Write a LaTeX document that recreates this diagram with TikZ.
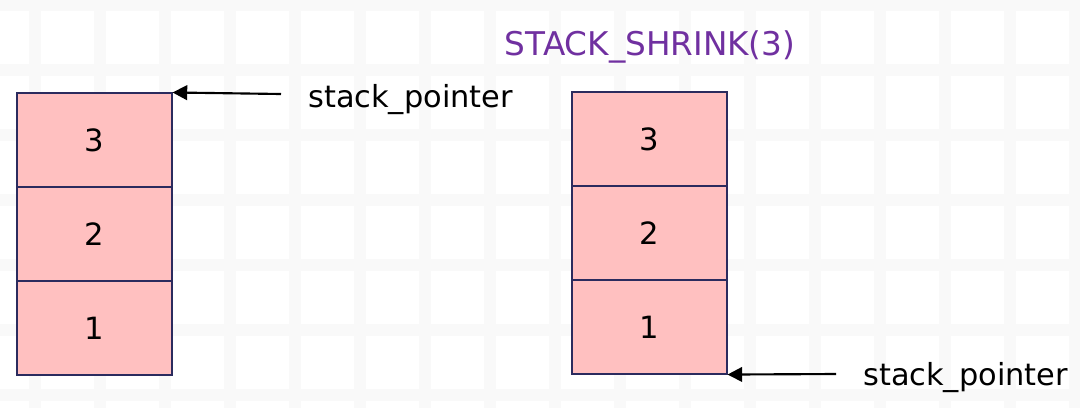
\documentclass[tikz,border=0pt]{standalone}
\usepackage{fontspec}
\setmainfont{DejaVu Sans}
\usetikzlibrary{arrows.meta}
\definecolor{cellfill}{HTML}{FFC0C0}
\definecolor{celldraw}{HTML}{2B2B5E}
\definecolor{titlepurple}{HTML}{7030A0}
\definecolor{gridc}{HTML}{F9F9F9}
\tikzset{
  cell/.style={draw=celldraw, line width=0.8pt, fill=cellfill, minimum width=116.25pt, minimum height=70.5pt, inner sep=0pt, font=\fontsize{23}{27}\selectfont},
  ptr/.style={line width=1.6pt, -{Triangle[length=11pt,width=11pt]}},
  lbl/.style={anchor=base west, inner sep=0pt, font=\fontsize{22.8}{27}\selectfont},
  ttl/.style={anchor=base, inner sep=0pt, text=titlepurple, font=\fontsize{24.5}{29}\selectfont}
}
\begin{document}
\begin{tikzpicture}[x=0.75pt,y=-0.75pt]
\useasboundingbox (0,0) rectangle (1080,408);
\fill[white] (0,0) rectangle (1080,408);
% faint background grid
\foreach \gx in {35,100,165,230,295,360,425,490,555,620,685,750,815,880,945,1010,1075}
  \fill[gridc] (\gx-6,0) rectangle (\gx+6,408);
\foreach \gy in {5,70,135,200,265,330,395}
  \fill[gridc] (0,\gy-6) rectangle (1080,\gy+6);
% left stack
\node[cell] (L3) at (94.5,140) {3};
\node[cell] (L2) at (94.5,234) {2};
\node[cell] (L1) at (94.5,328) {1};
% right stack
\node[cell] (R3) at (649.5,139) {3};
\node[cell] (R2) at (649.5,233) {2};
\node[cell] (R1) at (649.5,327) {1};
% title
\node[ttl] (title) at (650,55) {STACK\_SHRINK(3)};
% left pointer
\node[lbl] (lp) at (308,107) {stack\_pointer};
\coordinate (la) at (281,94);
\draw[ptr] (la) -- (L3.north east);
% right pointer
\node[lbl] (rp) at (863,385) {stack\_pointer};
\coordinate (ra) at (836,374);
\draw[ptr] (ra) -- (R1.south east);
\end{tikzpicture}
\end{document}
